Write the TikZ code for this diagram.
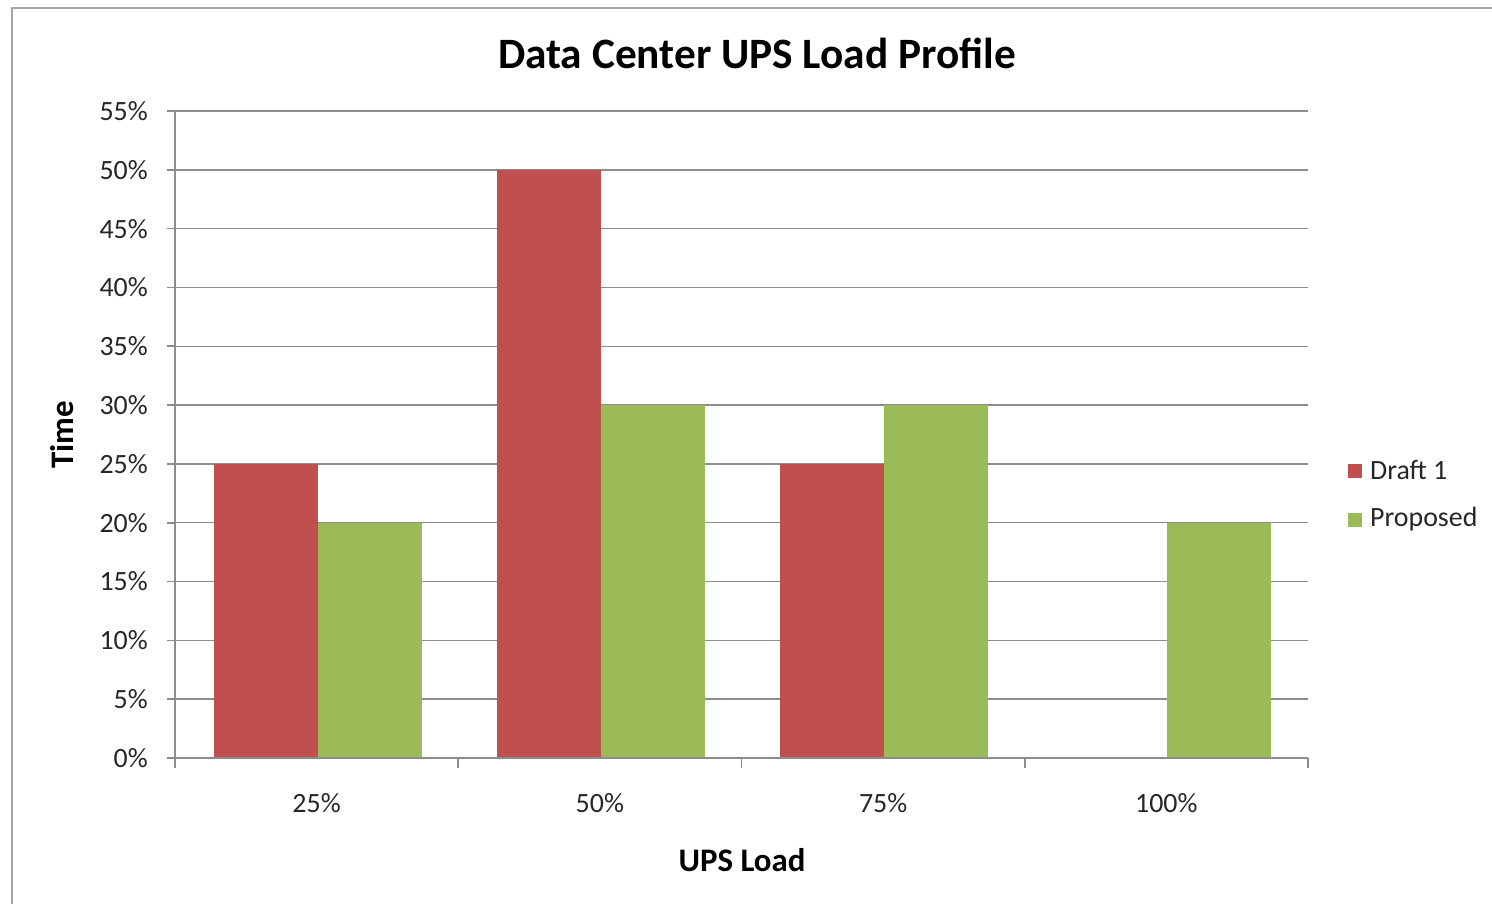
\documentclass[tikz,border=0pt]{standalone}
\usepackage{fontspec}
\setmainfont{Carlito}
\definecolor{seriesA}{HTML}{C0504D}
\definecolor{seriesB}{HTML}{9BBB59}
\definecolor{gridgray}{HTML}{8C8C8C}
\definecolor{framegray}{HTML}{A6A6A6}
\begin{document}
\begin{tikzpicture}[x=1bp,y=-1bp,
  grid/.style={draw=gridgray,line width=1.4bp},
  axisline/.style={draw=gridgray,line width=1.6bp},
  ticklab/.style={font=\fontsize{28}{32}\selectfont,text=black!85,inner sep=0pt},
  axtitle/.style={font=\fontsize{33}{37}\selectfont\bfseries,inner sep=0pt},
  legbox/.style={minimum size=14bp,inner sep=0pt,draw=none}]
\useasboundingbox (0,0) rectangle (1492,904);
% chart frame
\draw[framegray,line width=2bp] (12,904) -- (12,8) -- (1492,8);
% title
\node[font=\fontsize{43.5}{48}\selectfont\bfseries,inner sep=0pt] (title) at (757,53) {Data Center UPS Load Profile};
% horizontal gridlines and value labels (0%..55%, 58.82 px per 5%)
\foreach \i in {0,...,11}{
  \pgfmathsetmacro{\yy}{758-58.818*\i}
  \pgfmathtruncatemacro{\pct}{5*\i}
  \ifnum\i>0 \draw[grid] (175,\yy) -- (1308,\yy);\fi
  \draw[axisline] (167,\yy) -- (175,\yy);
  \node[ticklab,anchor=east] (ylab\i) at (148,\yy) {\pct\%};
}
% bars: category width 283.25, bar width 104
\foreach \c/\a/\b in {0/25/20,1/50/30,2/25/30,3/0/20}{
  \pgfmathsetmacro{\xa}{175+283.25*\c+38.6}
  \pgfmathsetmacro{\xb}{\xa+104}
  \pgfmathsetmacro{\xc}{\xb+104}
  \pgfmathsetmacro{\ha}{758-11.7636*\a}
  \pgfmathsetmacro{\hb}{758-11.7636*\b}
  \ifnum\a>0 \fill[seriesA] (\xa,758) rectangle (\xb,\ha);\fi
  \fill[seriesB] (\xb,758) rectangle (\xc,\hb);
}
% axes
\draw[axisline] (175,111) -- (175,758);
\draw[axisline] (175,758) -- (1308,758);
\foreach \c in {0,...,4}{
  \pgfmathsetmacro{\xx}{175+283.25*\c}
  \draw[axisline] (\xx,758) -- (\xx,768);
}
% category labels
\foreach \c/\t in {0/25,1/50,2/75,3/100}{
  \pgfmathsetmacro{\xx}{175+283.25*\c+141.6}
  \node[ticklab] (xlab\c) at (\xx,803) {\t\%};
}
% axis titles
\node[axtitle] (xtitle) at (742,860) {UPS Load};
\node[axtitle,rotate=90] (ytitle) at (62,435) {Time};
% legend
\node[legbox,fill=seriesA] (legA) at (1355,471) {};
\node[ticklab,anchor=west] (legAt) at (1370,470) {Draft 1};
\node[legbox,fill=seriesB] (legB) at (1355,520) {};
\node[ticklab,anchor=west] (legBt) at (1370,519) {Proposed};
\end{tikzpicture}
\end{document}
